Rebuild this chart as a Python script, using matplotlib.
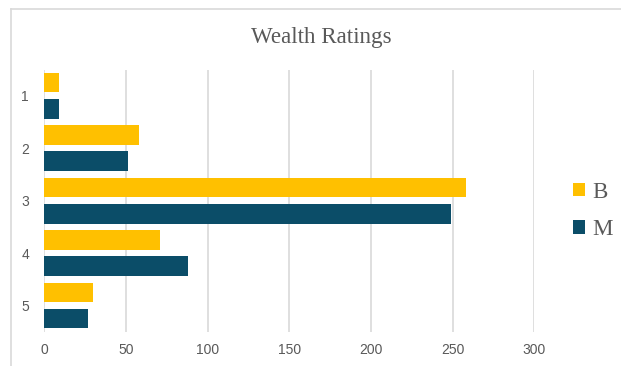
import numpy as np
import matplotlib
matplotlib.use("Agg")
import matplotlib.pyplot as plt
from matplotlib.lines import Line2D

ratings = ["1", "2", "3", "4", "5"]
b_counts = [9, 58, 258, 71, 30]
m_counts = [9, 51, 249, 88, 27]
x_ticks = [0, 50, 100, 150, 200, 250, 300]

yellow = "#FFC000"
navy = "#0B4D68"
grey_text = "#595959"
grid_grey = "#D9D9D9"

fig = plt.figure(figsize=(6.21, 3.66), dpi=100)
ax = fig.add_axes([0.0713, 0.0937, 0.7894, 0.7164])

y = np.arange(len(ratings))
ax.barh(y - 0.25, b_counts, height=0.375, color=yellow, label="B", zorder=3)
ax.barh(y + 0.25, m_counts, height=0.375, color=navy, label="M", zorder=3)

ax.set_xlim(0, 300)
ax.set_ylim(len(ratings) - 0.5, -0.5)
ax.set_xticks(x_ticks)
ax.set_yticks(y)
ax.set_yticklabels(ratings)
ax.grid(axis="x", color=grid_grey, lw=1.2, zorder=0)
for s in ax.spines.values():
    s.set_visible(False)
ax.tick_params(axis="x", length=0, pad=8, labelsize=10, labelcolor=grey_text)
ax.tick_params(axis="y", length=0, pad=11, labelsize=10, labelcolor=grey_text)
for lbl in ax.get_xticklabels() + ax.get_yticklabels():
    lbl.set_fontfamily("Liberation Sans")

fig.text(0.5177, 1 - 43.3 / 366, "Wealth Ratings", ha="center", va="baseline",
         fontsize=16.6, family="Liberation Serif", color=grey_text)

leg = fig.legend(loc="center left", bbox_to_anchor=(0.9232, 0.4235),
                 frameon=False, borderpad=0, borderaxespad=0,
                 handlelength=0.52, handleheight=0.52, handletextpad=0.29,
                 labelspacing=0.7,
                 prop={"family": "Liberation Serif", "size": 16.6})
for t in leg.get_texts():
    t.set_color(grey_text)

# chart frame (top and left edges)
fig.add_artist(Line2D([11 / 621, 1], [1 - 9 / 366, 1 - 9 / 366],
                      transform=fig.transFigure, color=grid_grey, lw=1.2))
fig.add_artist(Line2D([11 / 621, 11 / 621], [0, 1 - 9 / 366],
                      transform=fig.transFigure, color=grid_grey, lw=1.2))

fig.savefig("out.png", dpi=100)
